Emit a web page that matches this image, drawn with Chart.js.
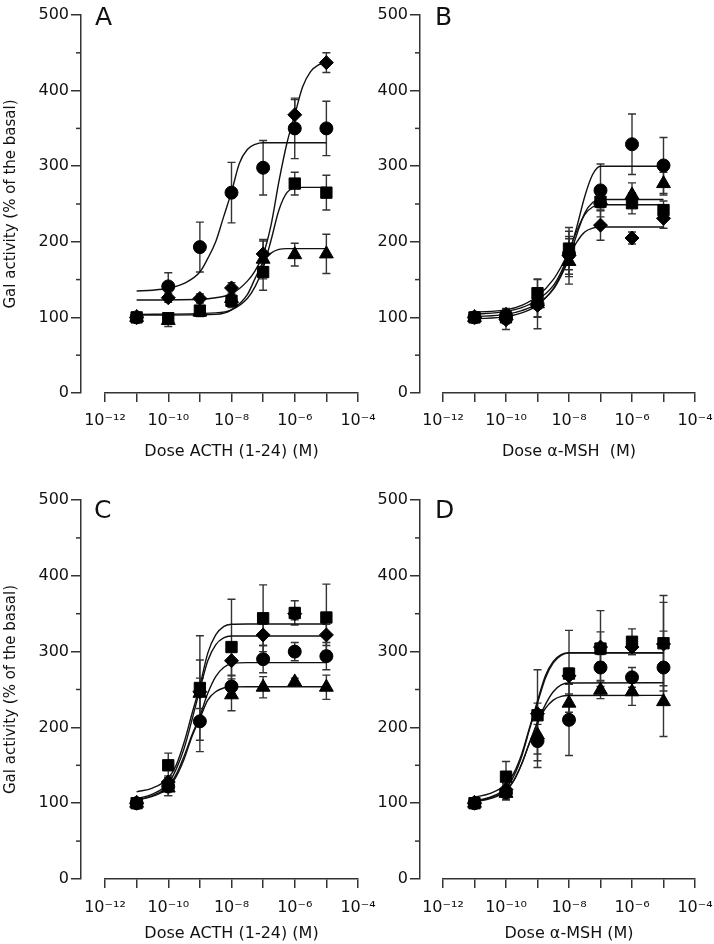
<!DOCTYPE html>
<html><head><meta charset="utf-8">
<script src="https://cdn.jsdelivr.net/npm/chart.js@4.4.1/dist/chart.umd.min.js"></script>
<style>
html,body{margin:0;padding:0;background:#fff;}
#wrap{position:relative;width:714px;height:944px;overflow:hidden;background:#fff;}
canvas{position:absolute;}
</style></head><body><div id="wrap">
<canvas id="cA" width="380" height="472" style="left:0px;top:0px;width:380px;height:472px"></canvas>
<canvas id="cB" width="374" height="472" style="left:340px;top:0px;width:374px;height:472px"></canvas>
<canvas id="cC" width="380" height="472" style="left:0px;top:472px;width:380px;height:472px"></canvas>
<canvas id="cD" width="374" height="472" style="left:340px;top:472px;width:374px;height:472px"></canvas>
</div>
<script>
// ---------- data ----------
const doseExponents = [-11, -10, -9, -8, -7, -6, -5];
const xTickExponents = [-12, -11, -10, -9, -8, -7, -6, -5, -4];
const xTickLabels = ['10\u207B\u00B9\u00B2', '', '10\u207B\u00B9\u2070', '', '10\u207B\u2078', '', '10\u207B\u2076', '', '10\u207B\u2074'];
const yTickValues = [0, 50, 100, 150, 200, 250, 300, 350, 400, 450, 500];
const yTickLabels = ['0', '', '100', '', '200', '', '300', '', '400', '', '500'];
const yMinorTicks = [50, 150, 250, 350, 450];

// Panel A
const aCircle = [100, 141, 193, 265, 298, 350, 350];
const aCircleErr = [4, 18, 33, 40, 36, 40, 36];
const aDiamond = [100, 126, 125, 139, 184, 368, 437];
const aDiamondErr = [3, 6, 6, 7, 17, 20, 13];
const aSquare = [100, 99, 109, 122, 160, 277, 265];
const aSquareErr = [3, 5, 6, 8, 24, 15, 23];
const aTriangle = [100, 96, 107, 125, 177, 183, 184];
const aTriangleErr = [3, 8, 6, 12, 26, 15, 26];
const aCircleFitX = [-11, -10.5, -10, -9.5, -9, -8.75, -8.5, -8.25, -8, -7.75, -7.5, -7.25, -7, -5];
const aCircleFitY = [135, 136, 138.5, 145, 160, 178, 200, 233, 266, 304, 322, 329, 331, 331];
const aDiamondFitX = [-11, -9, -8.5, -8, -7.5, -7.25, -7, -6.75, -6.5, -6.25, -6, -5.75, -5.5, -5.25, -5];
const aDiamondFitY = [123, 124, 126, 131, 148, 162, 183, 222, 280, 330, 368, 405, 425, 434, 437];
const aSquareFitX = [-11, -8.5, -8, -7.5, -7.25, -7, -6.75, -6.5, -6.25, -6, -5.75, -5];
const aSquareFitY = [104, 106, 110, 125, 141, 165, 202, 242, 265, 271, 272, 272];
const aTriangleFitX = [-11, -8.5, -8, -7.5, -7.25, -7, -6.75, -6.5, -6.25, -5];
const aTriangleFitY = [103, 104, 110, 130, 152, 173, 185, 190, 191, 191];

// Panel B
const bCircle = [100, 102, 118, 184, 268, 329, 301];
const bCircleErr = [3, 10, 18, 30, 35, 40, 37];
const bSquare = [100, 100, 132, 191, 253, 251, 242];
const bSquareErr = [3, 8, 18, 28, 12, 14, 12];
const bTriangle = [100, 103, 118, 174, 255, 262, 277];
const bTriangleErr = [3, 8, 33, 30, 10, 16, 15];
const bDiamond = [100, 97, 116, 182, 222, 205, 231];
const bDiamondErr = [3, 13, 15, 25, 20, 8, 13];
const bFitX = [-11, -10, -9.5, -9, -8.5, -8.25, -8, -7.75, -7.5, -7.25, -7, -5];
const bCircleFitY = [104, 108, 113, 123, 142, 160, 185, 220, 260, 289, 300, 300];
const bSquareFitY = [107, 110, 116, 128, 150, 167, 188, 215, 236, 246, 249, 249];
const bTriangleFitY = [101, 104, 109, 118, 137, 155, 178, 210, 238, 252, 256, 256];
const bDiamondFitY = [98, 101, 106, 116, 138, 157, 180, 200, 213, 218, 219.5, 219.5];

// Panel C
const cSquare = [100, 150, 252, 306, 344, 351, 345];
const cSquareErr = [3, 16, 69, 63, 44, 16, 44];
const cDiamond = [100, 128, 247, 288, 322, 350, 322];
const cDiamondErr = [3, 8, 42, 20, 14, 8, 14];
const cCircle = [100, 122, 208, 254, 290, 300, 294];
const cCircleErr = [3, 12, 40, 15, 18, 12, 18];
const cTriangle = [100, 120, 245, 243, 253, 260, 253];
const cTriangleErr = [3, 10, 20, 21, 14, 5, 16];
const cFitX = [-11, -10.5, -10, -9.75, -9.5, -9.25, -9, -8.75, -8.5, -8.25, -8, -7.5, -5];
const cSquareFitY = [115, 120, 133, 150, 180, 218, 255, 298, 322, 333, 336, 336.4, 336.4];
const cDiamondFitY = [106, 112, 126, 145, 172, 210, 250, 288, 309, 318, 320.5, 320.6, 320.6];
const cCircleFitY = [104, 110, 122, 138, 162, 190, 215, 245, 267, 279, 284, 285.4, 285.4];
const cTriangleFitY = [104, 109, 120, 135, 158, 188, 212, 236, 247, 252, 253.5, 253.7, 253.7];

// Panel D
const dSquare = [100, 135, 216, 271, 304, 313, 311];
const dSquareErr = [3, 20, 60, 57, 50, 17, 63];
const dDiamond = [100, 118, 218, 268, 306, 306, 310];
const dDiamondErr = [3, 8, 14, 10, 20, 10, 55];
const dCircle = [100, 114, 182, 210, 279, 266, 279];
const dCircleErr = [3, 10, 35, 47, 17, 13, 48];
const dTriangle = [100, 113, 190, 232, 249, 247, 234];
const dTriangleErr = [3, 8, 25, 12, 11, 18, 46];
const dFitX = [-11, -10.5, -10, -9.75, -9.5, -9.25, -9, -8.75, -8.5, -8.25, -8, -5];
const dSquareFitY = [108, 113, 125, 140, 165, 200, 235, 268, 287, 296, 298.6, 298.6];
const dDiamondFitY = [103, 108, 120, 136, 162, 198, 232, 265, 285, 295, 298, 298];
const dCircleFitY = [102, 107, 117, 130, 152, 180, 207, 230, 247, 256, 258.5, 259];
const dTriangleFitY = [102, 106, 116, 130, 152, 180, 205, 225, 236, 241, 242, 242.3];

const yTitleText = 'Gal activity (% of the basal)';
const xTitleACTH = 'Dose ACTH (1-24) (M)';
const xTitleMSHb = 'Dose \u03B1-MSH  (M)';
const xTitleMSHd = 'Dose \u03B1-MSH (M)';

// ---------- drawing ----------
const FONT = '"DejaVu Sans", sans-serif';
const INK = '#111';
const AXIS = '#333';
const markerRadius = {circle: 6.5, rect: 8, triangle: 8, rectRot: 7};

function toPoints(exps, vals) {
  return exps.map((e, i) => ({x: Math.pow(10, e), y: vals[i]}));
}

const panelDecor = {
  id: 'panelDecor',
  afterLayout(chart, args, o) {
    const y = chart.scales.y;
    y.left -= o.gap; y.right -= o.gap;
    y._gridLineItems = null; y._labelItems = null;
  },
  beforeDatasetsDraw(chart) {
    const ctx = chart.ctx, xs = chart.scales.x, ys = chart.scales.y;
    ctx.save();
    ctx.strokeStyle = AXIS; ctx.lineWidth = 1.4;
    chart.data.datasets.forEach(ds => {
      if (!ds.errorBars) return;
      ds.data.forEach((p, i) => {
        const e = ds.errorBars[i];
        if (!e) return;
        const x = xs.getPixelForValue(p.x);
        const y1 = ys.getPixelForValue(p.y + e), y2 = ys.getPixelForValue(p.y - e);
        ctx.beginPath();
        ctx.moveTo(x, y1); ctx.lineTo(x, y2);
        ctx.moveTo(x - 4, y1); ctx.lineTo(x + 4, y1);
        ctx.moveTo(x - 4, y2); ctx.lineTo(x + 4, y2);
        ctx.stroke();
      });
    });
    ctx.restore();
  },
  afterDraw(chart, args, o) {
    const ctx = chart.ctx, ys = chart.scales.y;
    ctx.save();
    ctx.strokeStyle = AXIS; ctx.lineWidth = 1.5;
    yMinorTicks.forEach(v => {
      const py = ys.getPixelForValue(v);
      ctx.beginPath(); ctx.moveTo(ys.right - 5, py); ctx.lineTo(ys.right, py); ctx.stroke();
    });
    ctx.fillStyle = INK;
    ctx.font = '25px ' + FONT;
    ctx.textBaseline = 'alphabetic';
    ctx.textAlign = 'left';
    ctx.fillText(o.letter, o.letterX, o.letterY);
    ctx.restore();
  }
};

function buildPanel(id, L, series) {
  const datasets = [];
  series.forEach(s => datasets.push({
    type: 'scatter', data: toPoints(doseExponents, s.values), errorBars: s.errors,
    pointStyle: s.style, pointRadius: markerRadius[s.style], pointBorderWidth: 1,
    backgroundColor: '#000', borderColor: '#000', showLine: false, order: 0
  }));
  series.forEach(s => datasets.push({
    type: 'line', data: toPoints(s.fitX, s.fitY), borderColor: INK, borderWidth: 1.4,
    pointRadius: 0, cubicInterpolationMode: 'monotone', fill: false, order: 1
  }));
  const xH = L.xH;
  const padBottom = L.H - L.chartBottom - xH;
  const xTitlePad = L.chartBottom + xH - L.xTitleCenter - 9.6;
  new Chart(document.getElementById(id), {
    type: 'scatter',
    data: {datasets},
    options: {
      responsive: false, animation: false, events: [],
      layout: {padding: {left: 0, top: L.chartTop, right: L.W - L.chartRight, bottom: padBottom}},
      plugins: {
        legend: {display: false}, tooltip: {enabled: false},
        panelDecor: {gap: L.gap, letter: L.letter, letterX: L.letterX, letterY: L.letterY}
      },
      scales: {
        x: {
          type: 'logarithmic', position: 'bottom', min: 1e-12, max: 1e-4,
          afterBuildTicks: sc => { sc.ticks = xTickExponents.map(e => ({value: Math.pow(10, e)})); },
          afterFit: sc => { sc.height = xH; sc.paddingLeft = 0; sc.paddingRight = 0; },
          ticks: {autoSkip: false, maxRotation: 0, minRotation: 0, padding: L.xTickPad, color: INK,
                  font: {family: FONT, size: 16}, callback: (v, i) => xTickLabels[i]},
          grid: {display: true, drawOnChartArea: false, drawTicks: true, tickLength: 9,
                 color: AXIS, tickColor: AXIS, lineWidth: 1.5, tickWidth: 1.5},
          border: {display: true, color: AXIS, width: 1.5},
          title: {display: true, text: L.xTitle, color: INK, font: {family: FONT, size: 16},
                  padding: {top: 0, bottom: xTitlePad}}
        },
        y: {
          type: 'linear', position: 'left', min: 0, max: 500,
          afterBuildTicks: sc => { sc.ticks = yTickValues.map(v => ({value: v})); },
          afterFit: sc => { sc.width = L.chartLeft; sc.paddingTop = 0; sc.paddingBottom = 0; },
          ticks: {autoSkip: false, padding: 2, color: INK, font: {family: FONT, size: 16},
                  callback: (v, i) => yTickLabels[i]},
          grid: {display: true, drawOnChartArea: false, drawTicks: true, tickLength: 10,
                 lineWidth: 1.5, tickWidth: 1.5,
                 tickColor: c => (c.tick && c.tick.value % 100 === 0) ? AXIS : 'rgba(0,0,0,0)'},
          border: {display: true, color: AXIS, width: 1.5},
          title: {display: !!L.yTitle, text: L.yTitle || '', color: INK, font: {family: FONT, size: 15},
                  padding: {top: L.yTitlePad, bottom: 0}}
        }
      }
    },
    plugins: [panelDecor]
  });
}

Chart.defaults.font.family = FONT;

buildPanel('cA', {W: 380, H: 472, chartLeft: 105, chartRight: 358, chartTop: 15, chartBottom: 393,
  gap: 24, xH: 70, xTitleCenter: 452, xTickPad: 9, xTitle: xTitleACTH, yTitle: yTitleText, yTitlePad: 26,
  letter: 'A', letterX: 95, letterY: 25}, [
  {style: 'triangle', values: aTriangle, errors: aTriangleErr, fitX: aTriangleFitX, fitY: aTriangleFitY},
  {style: 'rect', values: aSquare, errors: aSquareErr, fitX: aSquareFitX, fitY: aSquareFitY},
  {style: 'rectRot', values: aDiamond, errors: aDiamondErr, fitX: aDiamondFitX, fitY: aDiamondFitY},
  {style: 'circle', values: aCircle, errors: aCircleErr, fitX: aCircleFitX, fitY: aCircleFitY}
]);

buildPanel('cB', {W: 374, H: 472, chartLeft: 103, chartRight: 355, chartTop: 15, chartBottom: 393,
  gap: 23, xH: 70, xTitleCenter: 452, xTickPad: 9, xTitle: xTitleMSHb, yTitle: '', yTitlePad: 0,
  letter: 'B', letterX: 95, letterY: 25}, [
  {style: 'triangle', values: bTriangle, errors: bTriangleErr, fitX: bFitX, fitY: bTriangleFitY},
  {style: 'rect', values: bSquare, errors: bSquareErr, fitX: bFitX, fitY: bSquareFitY},
  {style: 'rectRot', values: bDiamond, errors: bDiamondErr, fitX: bFitX, fitY: bDiamondFitY},
  {style: 'circle', values: bCircle, errors: bCircleErr, fitX: bFitX, fitY: bCircleFitY}
]);

buildPanel('cC', {W: 380, H: 472, chartLeft: 105, chartRight: 358, chartTop: 28, chartBottom: 407,
  gap: 24, xH: 64, xTitleCenter: 462, xTickPad: 10, xTitle: xTitleACTH, yTitle: yTitleText, yTitlePad: 26,
  letter: 'C', letterX: 94, letterY: 46}, [
  {style: 'triangle', values: cTriangle, errors: cTriangleErr, fitX: cFitX, fitY: cTriangleFitY},
  {style: 'circle', values: cCircle, errors: cCircleErr, fitX: cFitX, fitY: cCircleFitY},
  {style: 'rectRot', values: cDiamond, errors: cDiamondErr, fitX: cFitX, fitY: cDiamondFitY},
  {style: 'rect', values: cSquare, errors: cSquareErr, fitX: cFitX, fitY: cSquareFitY}
]);

buildPanel('cD', {W: 374, H: 472, chartLeft: 103, chartRight: 355, chartTop: 28, chartBottom: 407,
  gap: 23, xH: 64, xTitleCenter: 462, xTickPad: 10, xTitle: xTitleMSHd, yTitle: '', yTitlePad: 0,
  letter: 'D', letterX: 95, letterY: 46}, [
  {style: 'triangle', values: dTriangle, errors: dTriangleErr, fitX: dFitX, fitY: dTriangleFitY},
  {style: 'circle', values: dCircle, errors: dCircleErr, fitX: dFitX, fitY: dCircleFitY},
  {style: 'rectRot', values: dDiamond, errors: dDiamondErr, fitX: dFitX, fitY: dDiamondFitY},
  {style: 'rect', values: dSquare, errors: dSquareErr, fitX: dFitX, fitY: dSquareFitY}
]);
</script>
</body></html>
